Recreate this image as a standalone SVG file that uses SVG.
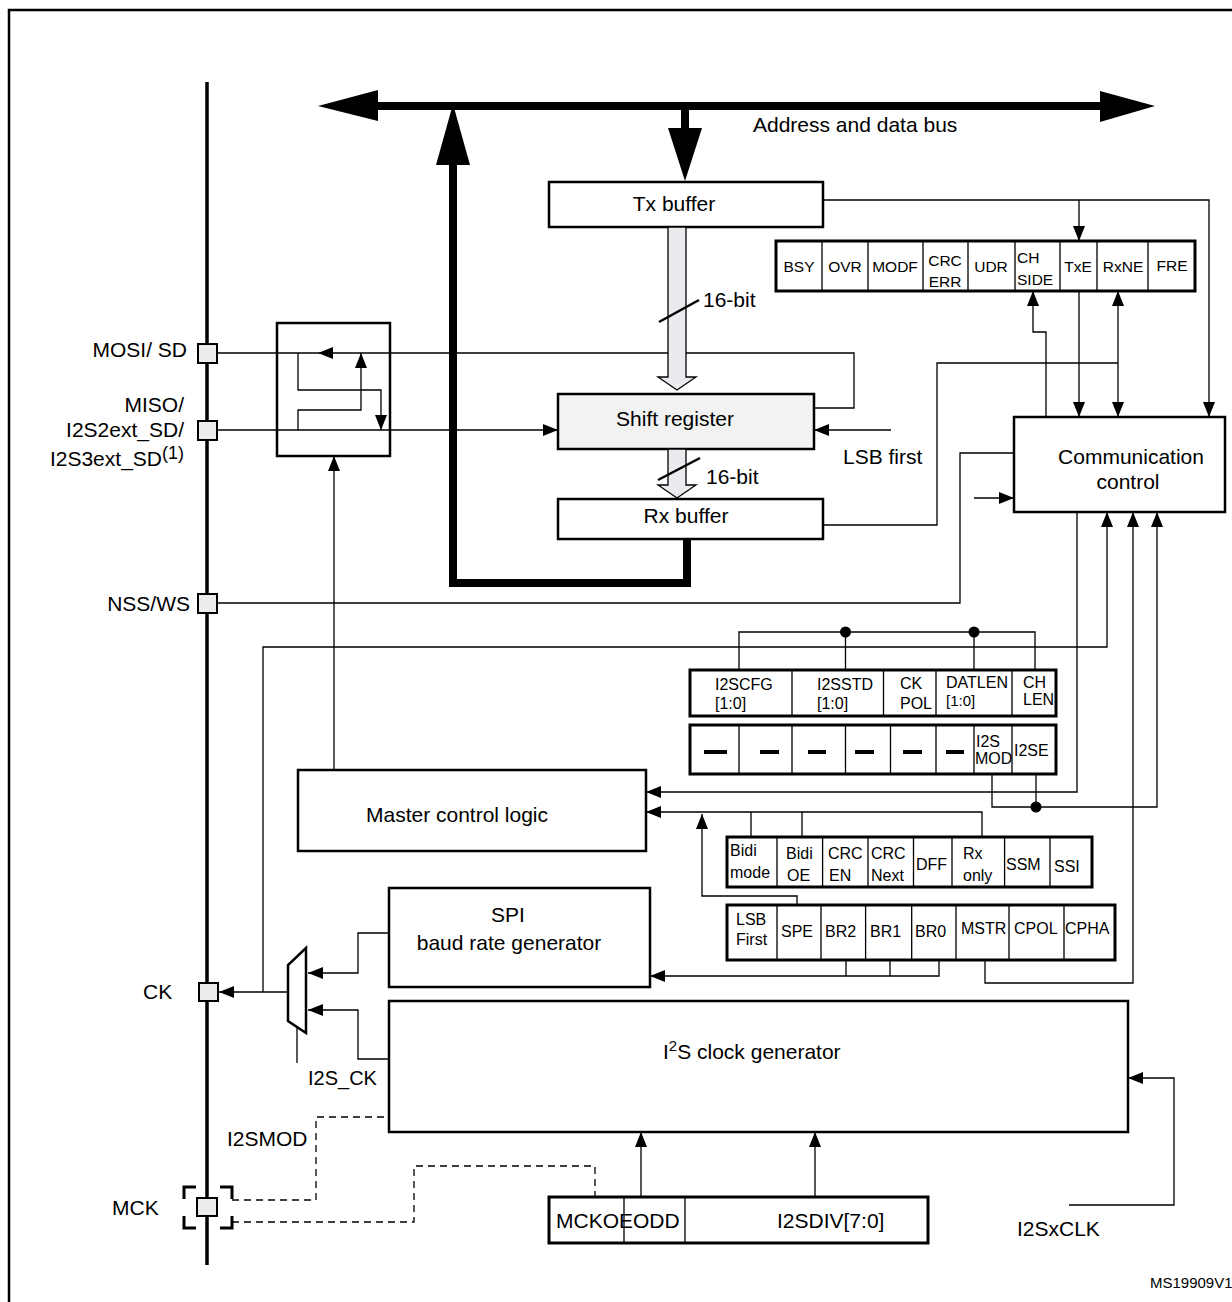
<svg xmlns="http://www.w3.org/2000/svg" width="1232" height="1302" viewBox="0 0 1232 1302">
<style>
.blk{fill:#fff;stroke:#000;stroke-width:2.5}
.reg{fill:#fff;stroke:#000;stroke-width:3}
.dv{stroke:#000;stroke-width:1.3}
.ln{fill:none;stroke:#000;stroke-width:1.3}
.dash{fill:none;stroke:#000;stroke-width:1.3;stroke-dasharray:7 5}
.pin{fill:#ececec;stroke:#000;stroke-width:2}
.hol{fill:#ebebef;stroke:#000;stroke-width:1.3}
text{font-family:"Liberation Sans",Arial,Helvetica,sans-serif;fill:#000}
.t21{font-size:21px}
.t16{font-size:16px}
.t15{font-size:15.5px}
.m{text-anchor:middle}
.e{text-anchor:end}
.dash4{stroke:#000;stroke-width:4}
</style>
<defs>
<marker id="ah" markerUnits="userSpaceOnUse" markerWidth="15" markerHeight="12" refX="15" refY="6" orient="auto"><path d="M0,0L15,6L0,12z" fill="#000"/></marker>
</defs>
<rect width="1232" height="1302" fill="#fff"/>
<path d="M9,1302V10H1232" fill="none" stroke="#000" stroke-width="2.5"/>

<g id="bus">
<line x1="370" y1="106" x2="1105" y2="106" stroke="#000" stroke-width="8"/>
<polygon points="318,106 378,90 378,121"/>
<polygon points="1155,106 1100,91 1100,122"/>
<rect x="681" y="108" width="8" height="22"/>
<polygon points="668,128 702,128 685,181"/>
<text class="t21" x="753" y="132">Address and data bus</text>
</g>

<g id="pinbus">
<line x1="207" y1="82" x2="207" y2="1265" stroke="#000" stroke-width="3.5"/>
</g>

<g id="connectors">
<path d="M687,540V583H453V160" fill="none" stroke="#000" stroke-width="8"/>
<polygon points="453,104 436,165 470,165"/>
<path class="ln" d="M217,353H854V408H814"/>
<polygon points="318,353 333,347 333,359"/>
<path class="ln" d="M298,353V390H381V430" marker-end="url(#ah)"/>
<path class="ln" d="M298,430V410H361V353" marker-end="url(#ah)"/>
<path class="ln" d="M217,430H558" marker-end="url(#ah)"/>
<path class="ln" d="M334,770V456" marker-end="url(#ah)"/>
<path class="ln" d="M891,430H814" marker-end="url(#ah)"/>
<path class="ln" d="M823,200H1209V417" marker-end="url(#ah)"/>
<path class="ln" d="M1079,200V241" marker-end="url(#ah)"/>
<path class="ln" d="M1079,291V417" marker-end="url(#ah)"/>
<path class="ln" d="M1118,363V291" marker-end="url(#ah)"/>
<path class="ln" d="M1118,363V417" marker-end="url(#ah)"/>
<path class="ln" d="M823,525H937V363H1118"/>
<path class="ln" d="M1046,417V332H1033V291" marker-end="url(#ah)"/>
<path class="ln" d="M1014,453H960V603H217"/>
<path class="ln" d="M974,498H1014" marker-end="url(#ah)"/>
<path class="ln" d="M263,992V647H1107V512" marker-end="url(#ah)"/>
<path class="ln" d="M1077,512V792H646" marker-end="url(#ah)"/>
<path class="ln" d="M985,960V983H1133V512" marker-end="url(#ah)"/>
<path class="ln" d="M992,774V807H1157V512" marker-end="url(#ah)"/>
<path class="ln" d="M1036,774V807"/>
<circle cx="1036" cy="807" r="5.5"/>
<path class="ln" d="M739,670V632H1035V670M845.5,632V670M974,632V670"/>
<circle cx="845.5" cy="632" r="5.5"/>
<circle cx="974" cy="632" r="5.5"/>
<path class="ln" d="M982,837V812H646" marker-end="url(#ah)"/>
<path class="ln" d="M751,837V812M802,837V812"/>
<path class="ln" d="M797,905V896H702V814" marker-end="url(#ah)"/>
<path class="ln" d="M846,960V976M890,960V976"/>
<path class="ln" d="M939,960V976H650" marker-end="url(#ah)"/>
<path class="ln" d="M389,933H358V973H308" marker-end="url(#ah)"/>
<path class="ln" d="M389,1059H358V1010H308" marker-end="url(#ah)"/>
<path class="ln" d="M288,992H219" marker-end="url(#ah)"/>
<path class="ln" d="M297,1027V1063"/>
<path class="ln" d="M1069,1205H1174V1078H1128" marker-end="url(#ah)"/>
<path class="ln" d="M641,1197V1132" marker-end="url(#ah)"/>
<path class="ln" d="M815,1197V1132" marker-end="url(#ah)"/>
<path class="dash" d="M232,1200H316V1117H389"/>
<path class="dash" d="M232,1222H414V1166H595V1197"/>
</g>

<g id="txbuffer">
<rect class="blk" x="549" y="182" width="274" height="45"/>
<text class="t21 m" x="674" y="211">Tx buffer</text>
</g>
<g id="txarrow">
<polygon class="hol" points="668,227 686,227 686,377 696,377 677,390 658,377 668,377"/>
<line x1="659" y1="322" x2="699" y2="300" stroke="#000" stroke-width="2.5"/>
<text class="t21" x="703" y="307">16-bit</text>
</g>
<g id="shiftregister">
<rect class="blk" x="558" y="394" width="256" height="55" style="fill:#f2f2f2"/>
<text class="t21 m" x="675" y="426">Shift register</text>
</g>
<g id="rxarrow">
<polygon class="hol" points="668,449 686,449 686,485 696,485 677,498 658,485 668,485"/>
<line x1="658" y1="480" x2="700" y2="458" stroke="#000" stroke-width="2.5"/>
<text class="t21" x="706" y="484">16-bit</text>
</g>
<g id="rxbuffer">
<rect class="blk" x="558" y="499" width="265" height="40"/>
<text class="t21 m" x="686" y="523">Rx buffer</text>
</g>
<text class="t21" x="843" y="464">LSB first</text>

<g id="statusreg">
<rect class="reg" x="776" y="241" width="419" height="50"/>
<path class="dv" d="M822,241V291M868,241V291M923,241V291M968,241V291M1015,241V291M1060,241V291M1097,241V291M1148,241V291" stroke-width="2"/>
<g class="t15">
<text class="m" x="799" y="272">BSY</text>
<text class="m" x="845" y="272">OVR</text>
<text class="m" x="895" y="272">MODF</text>
<text class="m" x="945" y="266">CRC</text>
<text class="m" x="945" y="287">ERR</text>
<text class="m" x="991" y="272">UDR</text>
<text x="1017" y="263">CH</text>
<text x="1017" y="285">SIDE</text>
<text class="m" x="1078" y="272">TxE</text>
<text class="m" x="1123" y="272">RxNE</text>
<text class="m" x="1172" y="271">FRE</text>
</g>
</g>

<g id="commcontrol">
<rect class="blk" x="1014" y="417" width="211" height="95"/>
<text class="t21 m" x="1131" y="464">Communication</text>
<text class="t21 m" x="1128" y="489">control</text>
</g>

<g id="muxbox">
<rect class="blk" x="277" y="323" width="113" height="133" style="fill:none"/>
</g>

<g id="pins">
<rect class="pin" x="198" y="344" width="19" height="19"/>
<rect class="pin" x="198" y="421" width="19" height="19"/>
<rect class="pin" x="198" y="594" width="19" height="19"/>
<rect class="pin" x="199" y="983" width="19" height="18"/>
<rect class="pin" x="197" y="1198" width="20" height="18"/>
<path d="M184,1199V1187H196M220,1187H232V1199M232,1216V1228H220M196,1228H184V1216" fill="none" stroke="#000" stroke-width="3"/>
<g class="t21">
<text class="e" x="187" y="357">MOSI/ SD</text>
<text class="e" x="184" y="412">MISO/</text>
<text class="e" x="184" y="437">I2S2ext_SD/</text>
<text class="e" x="184" y="466">I2S3ext_SD<tspan dy="-7" style="font-size:18px">(1)</tspan></text>
<text class="e" x="190" y="611">NSS/WS</text>
<text x="143" y="999">CK</text>
<text x="112" y="1215">MCK</text>
<text x="227" y="1146">I2SMOD</text>
</g>
<text x="308" y="1085" style="font-size:20px">I2S_CK</text>
</g>

<g id="i2scfgr">
<rect class="reg" x="690" y="670" width="366" height="46"/>
<path class="dv" d="M792,670V716M883.5,670V716M936,670V716M1012,670V716"/>
<g class="t16">
<text x="715" y="690">I2SCFG</text>
<text x="715" y="709">[1:0]</text>
<text x="817" y="690">I2SSTD</text>
<text x="817" y="709">[1:0]</text>
<text x="900" y="689">CK</text>
<text x="900" y="709">POL</text>
<text x="946" y="688">DATLEN</text>
<text x="946" y="706" style="font-size:15px">[1:0]</text>
<text x="1023" y="688">CH</text>
<text x="1023" y="705">LEN</text>
</g>
<rect class="reg" x="690" y="725" width="366" height="49"/>
<path class="dv" d="M739,725V774M792,725V774M845.5,725V774M890.5,725V774M936,725V774M974,725V774M1012,725V774"/>
<path class="dash4" d="M704,752H727M760,752H779M808,752H826M855,752H874M903,752H922M946,752H964"/>
<g class="t16">
<text x="976" y="747">I2S</text>
<text x="975" y="764">MOD</text>
<text x="1014" y="756">I2SE</text>
</g>
</g>

<g id="cr1a">
<rect class="reg" x="727" y="837" width="365" height="50"/>
<path class="dv" d="M777,837V887M822.6,837V887M868,837V887M913.5,837V887M952,837V887M1004.6,837V887M1050,837V887"/>
<g class="t16">
<text x="730" y="856">Bidi</text>
<text x="730" y="878">mode</text>
<text x="786" y="859">Bidi</text>
<text x="787" y="881">OE</text>
<text x="828" y="859">CRC</text>
<text x="829" y="881">EN</text>
<text x="871" y="859">CRC</text>
<text x="871" y="881">Next</text>
<text x="916" y="870">DFF</text>
<text x="963" y="859">Rx</text>
<text x="963" y="881">only</text>
<text x="1006" y="870">SSM</text>
<text x="1054" y="872">SSI</text>
</g>
</g>

<g id="cr1b">
<rect class="reg" x="727" y="905" width="388" height="55"/>
<path class="dv" d="M777,905V960M821,905V960M865.6,905V960M911.7,905V960M956,905V960M1009,905V960M1064,905V960"/>
<g class="t16">
<text x="736" y="925">LSB</text>
<text x="736" y="945">First</text>
<text x="781" y="937">SPE</text>
<text x="825" y="937">BR2</text>
<text x="870" y="937">BR1</text>
<text x="915" y="937">BR0</text>
<text x="961" y="934">MSTR</text>
<text x="1014" y="934">CPOL</text>
<text x="1065" y="934">CPHA</text>
</g>
</g>

<g id="mastercontrol">
<rect class="blk" x="298" y="770" width="348" height="81"/>
<text class="t21 m" x="457" y="822">Master control logic</text>
</g>

<g id="spibaud">
<rect class="blk" x="389" y="888" width="261" height="99"/>
<text class="t21 m" x="508" y="922">SPI</text>
<text class="t21 m" x="509" y="950">baud rate generator</text>
</g>

<g id="mux">
<polygon class="blk" points="306,948 306,1033 288,1021 288,965"/>
</g>

<g id="i2sclkgen">
<rect class="blk" x="389" y="1001" width="739" height="131"/>
<text class="t21" x="663" y="1059">I<tspan dy="-8" style="font-size:15px">2</tspan><tspan dy="8">S clock generator</tspan></text>
</g>

<g id="i2spr">
<rect class="reg" x="549" y="1197" width="379" height="46"/>
<path class="dv" d="M624,1197V1243M685,1197V1243"/>
<text class="t21" x="556" y="1228">MCKOEODD</text>
<text class="t21" x="777" y="1228">I2SDIV[7:0]</text>
</g>

<text class="t21" x="1017" y="1236">I2SxCLK</text>
<text x="1150" y="1288" style="font-size:15px">MS19909V1</text>
</svg>
